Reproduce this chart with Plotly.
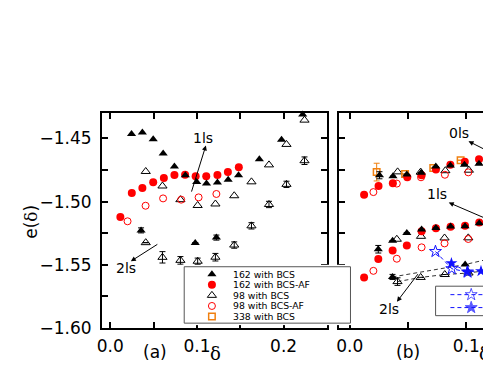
import plotly.graph_objects as go

# ---------------- data: panel (a) ----------------
a_bcs162_x = [0.0245, 0.0370, 0.0495, 0.0610, 0.0740, 0.0866, 0.0997, 0.1110, 0.1236, 0.1360, 0.1480, 0.1720, 0.1976, 0.2220]
a_bcs162_y = [-1.4465, -1.4454, -1.4508, -1.4619, -1.4723, -1.4792, -1.4846, -1.4858, -1.4850, -1.4827, -1.4792, -1.4665, -1.4512, -1.4312]
a_bcs162_lo_x = [0.0355, 0.0980, 0.1224]
a_bcs162_lo_y = [-1.5228, -1.5327, -1.5285]
a_bcs162_lo_err = [0.002, 0.0, 0.002]

a_af162_x = [0.0116, 0.0248, 0.0370, 0.0495, 0.0618, 0.0740, 0.0863, 0.0985, 0.1107, 0.1236, 0.1357, 0.1483]
a_af162_y = [-1.5123, -1.4933, -1.4892, -1.4848, -1.4813, -1.4790, -1.4787, -1.4800, -1.4800, -1.4790, -1.4767, -1.4728]

a_bcs98_x = [0.0409, 0.0602, 0.0809, 0.1008, 0.1213, 0.1430, 0.1629, 0.1831, 0.2033, 0.2241]
a_bcs98_y = [-1.4762, -1.4877, -1.4985, -1.5031, -1.5019, -1.4954, -1.4844, -1.4710, -1.4548, -1.4356]
a_bcs98_lo_y = [-1.5325, -1.5441, -1.5465, -1.5472, -1.5440, -1.5344, -1.5192, -1.5023, -1.4864, -1.4677]
a_bcs98_lo_err = [0.0, 0.0045, 0.003, 0.0025, 0.003, 0.0025, 0.0025, 0.0025, 0.0025, 0.003]

a_af98_x = [0.0199, 0.0407, 0.0609, 0.0818, 0.1019, 0.1224]
a_af98_y = [-1.5156, -1.5033, -1.4975, -1.4985, -1.4967, -1.4940]

# ---------------- data: panel (b) ----------------
b_bcs162_0_x = [0.0255, 0.0371, 0.0490, 0.0613, 0.0739, 0.0864, 0.0985, 0.1110]
b_bcs162_0_y = [-1.4792, -1.4800, -1.4785, -1.4773, -1.4723, -1.4715, -1.4708, -1.4700]
b_bcs162_0_err = [0.0028, 0, 0, 0, 0, 0, 0, 0]
b_af162_0_x = [0.0123, 0.0247, 0.0370, 0.0494, 0.0617, 0.0740, 0.0864, 0.0988, 0.1110]
b_af162_0_y = [-1.4946, -1.4877, -1.4856, -1.4808, -1.4792, -1.4746, -1.4708, -1.4685, -1.4665]
b_bcs98_0_x = [0.0411, 0.0609, 0.0821, 0.1023, 0.1203]
b_bcs98_0_y = [-1.4765, -1.4767, -1.4756, -1.4752, -1.4728]
b_af98_0_x = [0.0203, 0.0404, 0.0612, 0.0817, 0.1018]
b_af98_0_y = [-1.4925, -1.4858, -1.4808, -1.4788, -1.4769]
b_bcs338_x = [0.0231, 0.0475, 0.0717, 0.0952, 0.1189]
b_bcs338_y = [-1.4767, -1.4782, -1.4735, -1.4673, -1.4667]
b_bcs338_err = [0.007, 0, 0, 0, 0]

b_bcs162_1_x = [0.0245, 0.0368, 0.0490, 0.0617, 0.0740, 0.0866, 0.0990, 0.1112]
b_bcs162_1_y = [-1.5377, -1.5310, -1.5248, -1.5221, -1.5210, -1.5198, -1.5195, -1.5172]
b_bcs162_1_err = [0.003, 0, 0, 0, 0, 0, 0, 0]
b_af162_1_x = [0.0123, 0.0245, 0.0368, 0.0490, 0.0617, 0.0740, 0.0866, 0.0990, 0.1112]
b_af162_1_y = [-1.5600, -1.5454, -1.5387, -1.5348, -1.5235, -1.5212, -1.5200, -1.5192, -1.5165]
b_af98_1_x = [0.0203, 0.0404, 0.0617, 0.0814, 0.1018, 0.1203]
b_af98_1_y = [-1.5548, -1.5452, -1.5362, -1.5331, -1.5296, -1.5241]
b_bcs98_1_x = [0.0404, 0.0612, 0.0814, 0.1018]
b_bcs98_1_y = [-1.5298, -1.5275, -1.5288, -1.5287]

b_bcs162_2_x = [0.0367, 0.0991, 0.1235]
b_bcs162_2_y = [-1.5596, -1.5498, -1.5446]
b_bcs162_2_err = [0.002, 0, 0]
b_bcs98_2_x = [0.0410, 0.0609, 0.0816, 0.1020, 0.1224]
b_bcs98_2_y = [-1.5633, -1.5600, -1.5577, -1.5565, -1.5538]
b_bcs98_2_err = [0.003, 0, 0, 0, 0]

b_star_open_x = [0.0736, 0.0876, 0.1012]
b_star_open_y = [-1.5395, -1.5531, -1.5558]
b_star_fill_x = [0.0873, 0.1008, 0.1127, 0.1235]
b_star_fill_y = [-1.5488, -1.5554, -1.5550, -1.5515]

legend_labels = ["162 with BCS", "162 with BCS-AF", "98 with BCS", "98 with BCS-AF", "338 with BCS"]

y_tickvals = [-1.60, -1.575, -1.55, -1.525, -1.50, -1.475, -1.45]
y_ticktext = ["\u22121.60", "", "\u22121.55", "", "\u22121.50", "", "\u22121.45"]
xa_tickvals = [0.0, 0.05, 0.10, 0.15, 0.20, 0.25]
xa_ticktext = ["0.0", "", "0.1", "", "0.2", ""]
xb_tickvals = [0.0, 0.05, 0.10]
xb_ticktext = ["0.0", "", "0.1"]

# ---------------- geometry (window pixels; the page body adds an 8px margin) ----------------
OFF = 8
W, H = 491 - OFF, 382 - 2 * OFF


def PX(p):
    return (p - OFF) / W


def PY(p):
    return 1 - (p - OFF) / H


BLACK = "#000000"
RED = "#ff0000"
ORANGE = "#f08010"
BLUE = "#1010ff"
FONT = "DejaVu Sans"

STY = {
    "bcs162": dict(symbol="triangle-up", color=BLACK, size=8, line=dict(width=0)),
    "af162": dict(symbol="circle", color=RED, size=8, line=dict(width=0)),
    "bcs98": dict(symbol="triangle-up-open", color=BLACK, size=8, line=dict(width=1, color=BLACK)),
    "af98": dict(symbol="circle-open", color=RED, size=7, line=dict(width=1, color=RED)),
    "bcs338": dict(symbol="square-open", color=ORANGE, size=6.5, line=dict(width=1.5, color=ORANGE)),
}

fig = go.Figure()


def pts(x, y, key, xa="x", ya="y", err=None, dashed=False):
    kw = dict(x=x, y=y, xaxis=xa, yaxis=ya, showlegend=False, cliponaxis=False,
              marker=STY[key], hoverinfo="skip")
    if dashed:
        kw["mode"] = "lines+markers"
        kw["line"] = dict(color="#333333", width=1, dash="4px,3px")
    else:
        kw["mode"] = "markers"
    if err is not None:
        kw["error_y"] = dict(type="data", array=err, visible=True, color=BLACK, thickness=1, width=3)
    fig.add_trace(go.Scatter(**kw))


# panel (a)
pts(a_bcs98_x, a_bcs98_y, "bcs98")
pts(a_bcs98_x, a_bcs98_lo_y, "bcs98", err=a_bcs98_lo_err)
pts(a_af98_x, a_af98_y, "af98")
pts(a_af162_x, a_af162_y, "af162")
pts(a_bcs162_x, a_bcs162_y, "bcs162")
pts(a_bcs162_lo_x, a_bcs162_lo_y, "bcs162", err=a_bcs162_lo_err)

# panel (b)
pts(b_bcs98_2_x, b_bcs98_2_y, "bcs98", "x2", "y2", err=b_bcs98_2_err, dashed=True)
pts(b_bcs162_2_x, b_bcs162_2_y, "bcs162", "x2", "y2", err=b_bcs162_2_err, dashed=True)
fig.add_trace(go.Scatter(x=b_star_open_x, y=b_star_open_y, xaxis="x2", yaxis="y2", mode="lines+markers",
                         showlegend=False, hoverinfo="skip",
                         line=dict(color=BLUE, width=1, dash="4px,3px"),
                         marker=dict(symbol="star-open", size=9, color=BLUE, line=dict(width=1, color=BLUE))))
fig.add_trace(go.Scatter(x=b_star_fill_x, y=b_star_fill_y, xaxis="x2", yaxis="y2", mode="lines+markers",
                         showlegend=False, hoverinfo="skip",
                         line=dict(color=BLUE, width=1, dash="4px,3px"),
                         marker=dict(symbol="star", size=9, color=BLUE)))
pts(b_bcs98_1_x, b_bcs98_1_y, "bcs98", "x2", "y2")
pts(b_af98_1_x, b_af98_1_y, "af98", "x2", "y2")
pts(b_af162_1_x, b_af162_1_y, "af162", "x2", "y2")
pts(b_bcs162_1_x, b_bcs162_1_y, "bcs162", "x2", "y2", err=b_bcs162_1_err)
pts(b_bcs98_0_x, b_bcs98_0_y, "bcs98", "x2", "y2")
pts(b_af98_0_x, b_af98_0_y, "af98", "x2", "y2")
fig.add_trace(go.Scatter(x=b_bcs338_x, y=b_bcs338_y, xaxis="x2", yaxis="y2", mode="markers",
                         showlegend=False, hoverinfo="skip", marker=dict(size=1, color=ORANGE, opacity=0),
                         error_y=dict(type="data", array=b_bcs338_err, visible=True, color=ORANGE,
                                      thickness=1, width=3)))
pts(b_bcs338_x, b_bcs338_y, "bcs338", "x2", "y2")
pts(b_af162_0_x, b_af162_0_y, "af162", "x2", "y2")
pts(b_bcs162_0_x, b_bcs162_0_y, "bcs162", "x2", "y2", err=b_bcs162_0_err)

# ---------------- manual legend (a) ----------------
LA_BOX = (181, 274, 349, 332)   # window px: left, top, right, bottom
ROW = 10.9
la_w = LA_BOX[2] - LA_BOX[0]
la_h = (LA_BOX[3] - LA_BOX[1]) / ROW
keys = ["bcs162", "af162", "bcs98", "af98", "bcs338"]
rows = [0.7 + i for i in range(len(keys))]
for k, r in zip(keys, rows):
    fig.add_trace(go.Scatter(x=[28 / la_w], y=[r], xaxis="x3", yaxis="y3", mode="markers",
                             marker=STY[k], showlegend=False, hoverinfo="skip"))
fig.add_shape(type="rect", xref="x3", yref="y3", x0=0, x1=1, y0=0, y1=la_h,
              line=dict(color="#555555", width=1), fillcolor="white", layer="below")
for lab, r in zip(legend_labels, rows):
    fig.add_annotation(xref="x3", yref="y3", x=48 / la_w, y=r, text=lab, showarrow=False,
                       xanchor="left", yanchor="middle", borderpad=0,
                       font=dict(family=FONT, size=9.3, color=BLACK))

# ---------------- manual legend (b), cropped at the right edge ----------------
LB_BOX = (435, 294, 324.3)
lb_rows = [8.7, 22.0]
fig.add_shape(type="rect", xref="x4", yref="y4", x0=0, x1=200, y0=0, y1=LB_BOX[2] - LB_BOX[1],
              line=dict(color="#555555", width=1), fillcolor="white", layer="below")
for r, sym in zip(lb_rows, ["star-open", "star"]):
    fig.add_trace(go.Scatter(x=[15, 36, 120], y=[r, r, r], xaxis="x4", yaxis="y4", mode="lines+markers",
                             showlegend=False, hoverinfo="skip",
                             line=dict(color=BLUE, width=1, dash="4px,3px"),
                             marker=dict(symbol=sym, size=[0, 9, 0], color=BLUE, line=dict(width=1, color=BLUE))))

# ---------------- axes ----------------
ydom = [PY(337), PY(116)]
tickfont = dict(family=FONT, size=17, color=BLACK)
common = dict(showgrid=False, zeroline=False, ticks="inside", ticklen=6, tickwidth=1.5,
              tickcolor=BLACK, showline=True, linewidth=2, linecolor=BLACK, tickfont=tickfont)

fig.update_layout(
    width=W, height=H,
    margin=dict(l=0, r=0, t=0, b=0),
    paper_bgcolor="white", plot_bgcolor="white",
    showlegend=False,
    xaxis=dict(domain=[PX(98), PX(325.5)], range=[-0.0095, 0.2503], tickmode="array",
               tickvals=xa_tickvals, ticktext=xa_ticktext, mirror="ticks", anchor="y",
               ticklabelstandoff=2, **common),
    yaxis=dict(domain=ydom, range=[-1.60, -1.43], tickmode="array", tickvals=y_tickvals,
               ticktext=y_ticktext, mirror="ticks", anchor="x", ticklabelstandoff=5, **common),
    xaxis2=dict(domain=[PX(337), 1.0], range=[-0.0096, 0.1213], tickmode="array",
                tickvals=xb_tickvals, ticktext=xb_ticktext, mirror="ticks", anchor="y2",
                ticklabelstandoff=2, **common),
    yaxis2=dict(domain=ydom, range=[-1.60, -1.43], tickmode="array", tickvals=y_tickvals,
                ticktext=[""] * len(y_tickvals), mirror=False, anchor="x2", **common),
    xaxis3=dict(domain=[PX(LA_BOX[0] - 2), PX(LA_BOX[2] + 2)], range=[-2 / la_w, 1 + 2 / la_w],
                visible=False, anchor="y3"),
    yaxis3=dict(domain=[PY(LA_BOX[3] + 2), PY(LA_BOX[1] - 2)],
                range=[la_h + 2 / ROW, -2 / ROW], visible=False, anchor="x3"),
    xaxis4=dict(domain=[PX(LB_BOX[0] - 2), 1.0], range=[-2, 491 - LB_BOX[0]], visible=False, anchor="y4"),
    yaxis4=dict(domain=[PY(LB_BOX[2] + 2), PY(LB_BOX[1] - 2)],
                range=[LB_BOX[2] - LB_BOX[1] + 2, -2], visible=False, anchor="x4"),
)

# ---------------- text annotations ----------------
lab_font = dict(family=FONT, size=14, color=BLACK)
arrow_kw = dict(showarrow=True, arrowhead=2, arrowsize=1, arrowwidth=1, arrowcolor=BLACK, text="")


def label(xr, yr, x, y, t):
    fig.add_annotation(xref=xr, yref=yr, x=x, y=y, text=t, showarrow=False, font=lab_font,
                       xanchor="center", yanchor="middle")


def arrow(xr, yr, x, y, ax, ay):
    fig.add_annotation(xref=xr, yref=yr, axref=xr, ayref=yr, x=x, y=y, ax=ax, ay=ay, **arrow_kw)


label("x", "y", 0.1071, -1.4495, "1ls")
arrow("x", "y", 0.1103, -1.4556, 0.0932, -1.4933)
label("x", "y", 0.0182, -1.5523, "2ls")
arrow("x", "y", 0.0237, -1.5472, 0.0560, -1.5331)

label("x2", "y2", 0.0935, -1.4459, "0ls")
arrow("x2", "y2", 0.1020, -1.4523, 0.1459, -1.4728)
label("x2", "y2", 0.0751, -1.4942, "1ls")
arrow("x2", "y2", 0.0850, -1.5008, 0.1459, -1.5249)
label("x2", "y2", 0.0340, -1.5848, "2ls")
arrow("x2", "y2", 0.0405, -1.5792, 0.0595, -1.5562)

big = dict(family=FONT, size=17, color=BLACK)
dfont = dict(family="DejaVu Serif", size=18, color=BLACK)
delta = "<span style='font-family:DejaVu Serif'>\u03b4</span>"


def paper_text(xp, yp, t, font, angle=0):
    fig.add_annotation(xref="paper", yref="paper", x=PX(xp), y=PY(yp), text=t, showarrow=False,
                       xanchor="center", yanchor="middle", font=font, textangle=angle)


paper_text(151.7, 362, "(a)", big)
paper_text(406.7, 362, "(b)", big)
paper_text(212.7, 363.5, "\u03b4", dfont)
paper_text(484.5, 363.5, "\u03b4", dfont)
paper_text(26, 228, "e(" + delta + ")", big, angle=-90)

fig.write_html("out.html")
